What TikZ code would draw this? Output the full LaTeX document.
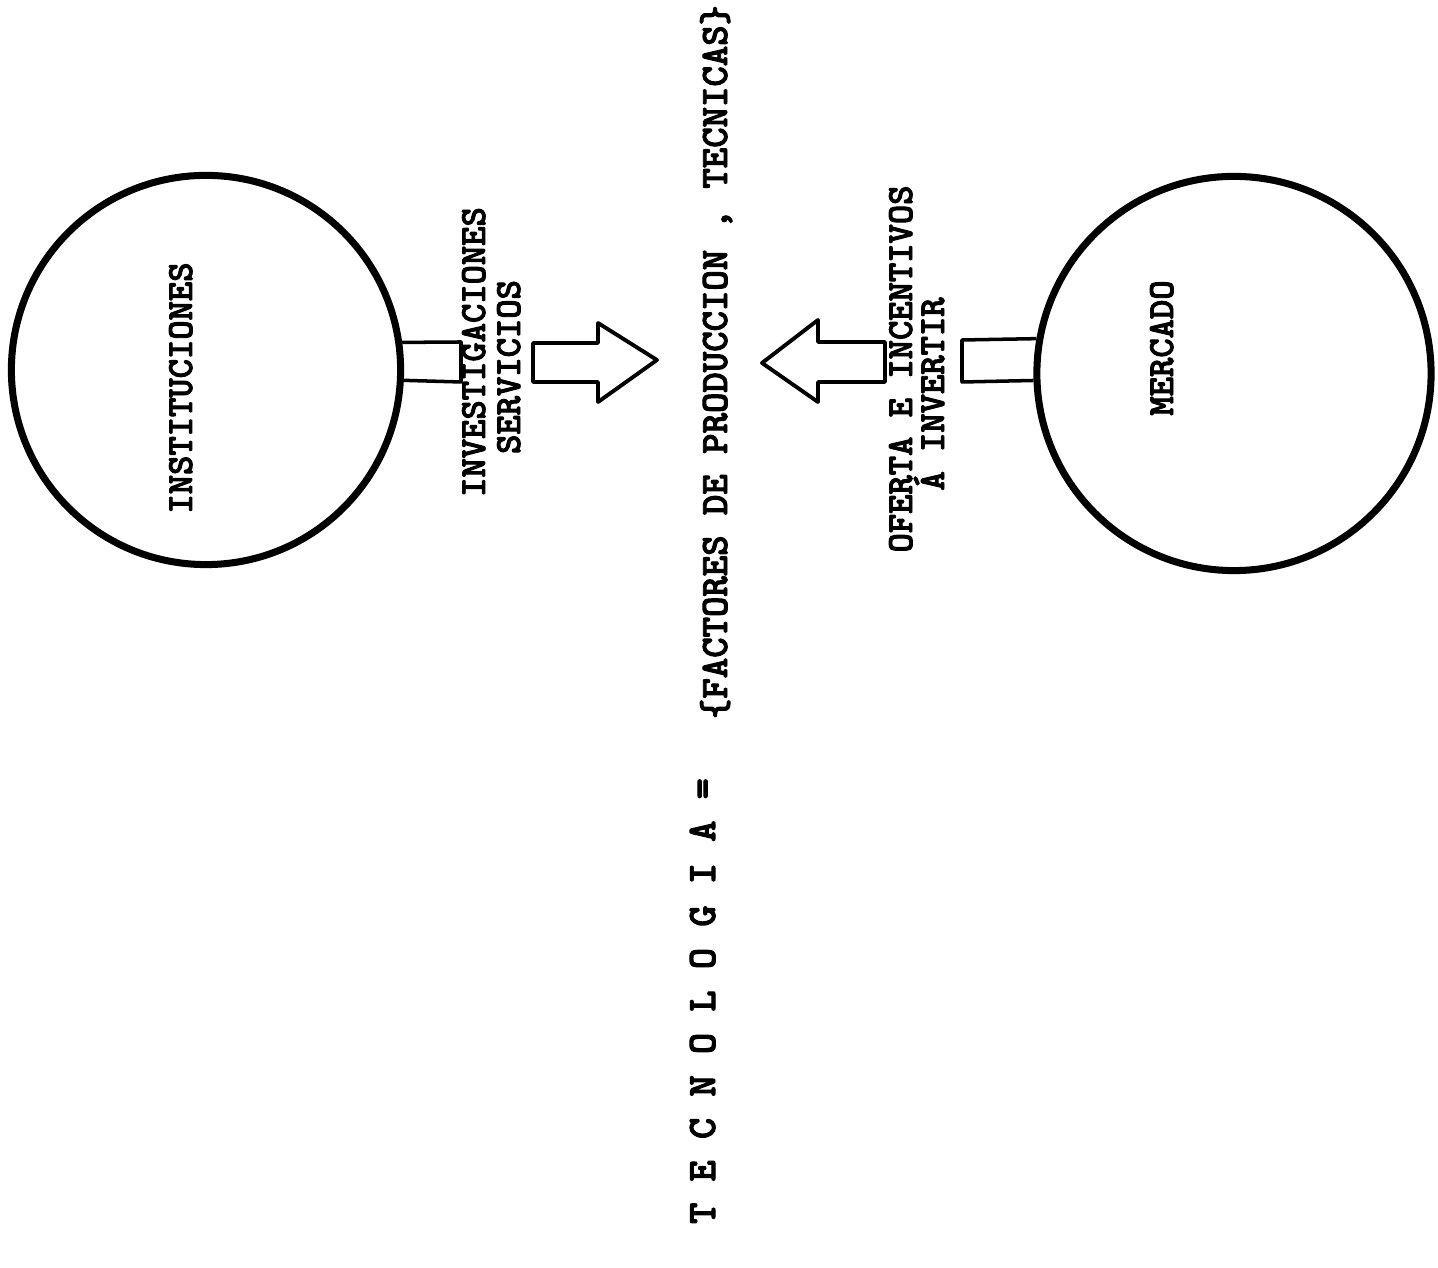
\documentclass[tikz,border=0pt]{standalone}
\usepackage{fontspec}
\newfontfamily\twfont{lmmonolt10-bold.otf}[FakeBold=2.5]
\begin{document}
\begin{tikzpicture}[x=0.01cm,y=-0.01cm,
  ring/.style={circle,draw=black,line width=2pt,inner sep=0pt},
  stem/.style={draw=black,line width=1pt,line join=round},
  blockarrow/.style={draw=black,line width=1.1pt,line join=round,fill=white},
  lbl/.style={rotate=90,anchor=base,inner sep=0pt,font=\fontsize{10.46}{12}\twfont},
  lblbig/.style={rotate=90,anchor=base,inner sep=0pt,font=\fontsize{11.05}{13}\twfont},
  lblsp/.style={rotate=90,anchor=base,inner sep=0pt,font=\fontsize{11.5}{13}\twfont}]
\fill[white] (0,0) rectangle (1438,1268);
\useasboundingbox (0,0) rectangle (1438,1268);

% circles
\node[ring,minimum size=3.89cm] (inst) at (206,370) {};
\node[ring,minimum size=3.94cm] (merc) at (1234,373.5) {};

% labels inside circles
\node[lbl] (instl) at (192,388) {INSTITUCIONES};
\node[lbl] (mercl) at (1173,348) {MERCADO};

% stems
\draw[stem] (inst.8.1) -- (461,342) -- (461,382) -- (inst.-3.5);
\draw[stem] (merc.170.5) -- (962,340) -- (962,382) -- (merc.182.6);

% block arrows
\draw[blockarrow] (533,343) -- (598,343) -- (598,323) -- (657,360)
   -- (598,402) -- (598,382) -- (533,382) -- cycle;
\draw[blockarrow] (885,342) -- (818,342) -- (818,320) -- (762,363)
   -- (818,402) -- (818,382) -- (885,382) -- cycle;

% side labels
\node[lbl] (inv) at (485,352) {INVESTIGACIONES};
\node[lbl] (serv) at (520,367) {SERVICIOS};
\node[lbl] (ofe) at (912,369) {OFERTA E INCENTIVOS};
\node[lbl] (inver) at (944,394) {Á INVERTIR};

% central lines
\node[lblbig] (fac) at (727,362) {\{FACTORES DE PRODUCCION , TECNICAS\}};
\node[lblsp] (tec) at (715,1001) {T E C N O L O G I A =};
\end{tikzpicture}
\end{document}
